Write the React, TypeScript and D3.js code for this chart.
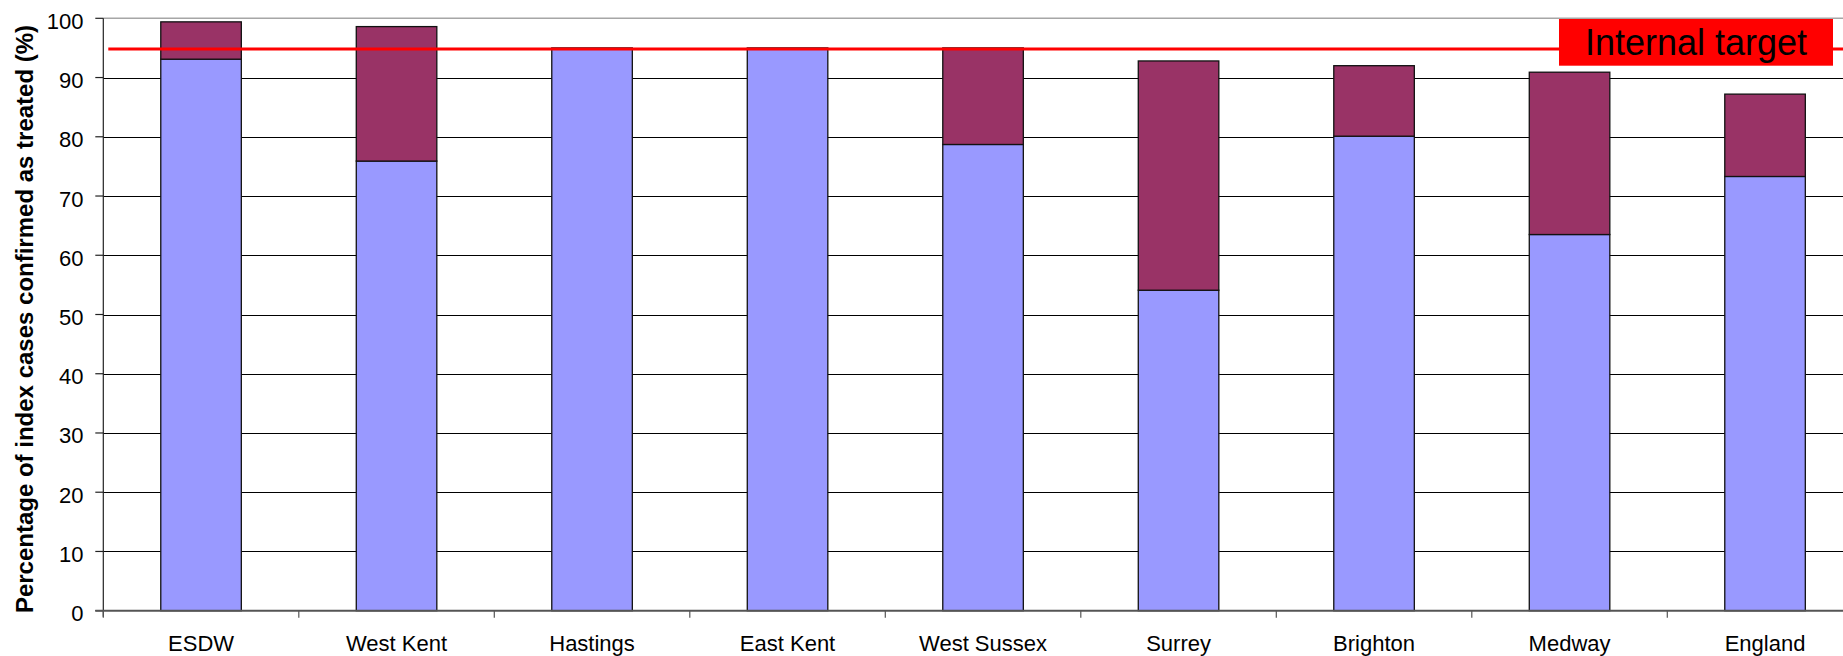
import React, { useEffect } from "react";
import * as d3 from "d3";

const categories = ["ESDW", "West Kent", "Hastings", "East Kent", "West Sussex", "Surrey", "Brighton", "Medway", "England"];
const treatedValues = [93.1, 75.9, 95.0, 95.0, 78.7, 54.1, 80.1, 63.5, 73.3];
const totalValues = [99.4, 98.6, 95.0, 95.0, 95.0, 92.8, 92.0, 90.9, 87.2];
const yTicks = [0, 10, 20, 30, 40, 50, 60, 70, 80, 90, 100];
const targetValue = 94.8;
const targetLabel = "Internal target";
const yTitle = "Percentage of index cases confirmed as treated (%)";

const W = 1843;
const H = 656;
const axisX = 103.3;
const step = 195.5;
const y0 = 610.7;
const y100 = 18.3;
const FONT = "'Liberation Sans', Arial, sans-serif";

export default function App() {
  useEffect(() => {
    document.body.style.margin = "0";
  }, []);

  const x = d3
    .scaleBand<string>()
    .domain(categories)
    .range([axisX, axisX + categories.length * step])
    .paddingInner(0.588)
    .paddingOuter(0.294);
  const y = d3.scaleLinear().domain([0, 100]).range([y0, y100]);

  const boundaries = d3.range(categories.length + 1).map((i) => axisX + i * step);

  return (
    <div style={{ position: "absolute", left: 0, top: 0 }}>
      <svg width={W} height={H} style={{ display: "block", background: "#fff" }} fontFamily={FONT}>
        {/* gridlines */}
        {yTicks.filter((t) => t > 0 && t < 100).map((t) => (
          <line key={t} x1={axisX} x2={W} y1={Math.round(y(t)) + 0.5} y2={Math.round(y(t)) + 0.5} stroke="#000" strokeWidth={1} />
        ))}
        <line x1={axisX} x2={W} y1={y(100)} y2={y(100)} stroke="#a6a6a6" strokeWidth={1.5} />
        {/* bars */}
        {categories.map((c, i) => {
          const bx = x(c)!;
          const bw = x.bandwidth();
          return (
            <g key={c}>
              <rect x={bx} y={y(treatedValues[i])} width={bw} height={y(0) - y(treatedValues[i])} fill="#9999FF" stroke="#111" strokeWidth={1.3} />
              {totalValues[i] - treatedValues[i] > 0.05 && (
                <rect x={bx} y={y(totalValues[i])} width={bw} height={y(treatedValues[i]) - y(totalValues[i])} fill="#993366" stroke="#111" strokeWidth={1.3} />
              )}
            </g>
          );
        })}
        {/* y axis */}
        <line x1={axisX} x2={axisX} y1={y(100)} y2={y(0) + 6} stroke="#222" strokeWidth={1.2} />
        {yTicks.map((t) => (
          <g key={t}>
            <line x1={axisX - 8} x2={axisX} y1={y(t)} y2={y(t)} stroke="#222" strokeWidth={1.2} />
            <text x={83.5} y={y(t) + 10.5} textAnchor="end" fontSize={22} fill="#000">
              {t}
            </text>
          </g>
        ))}
        {/* x axis */}
        <line x1={axisX - 8} x2={W} y1={y(0)} y2={y(0)} stroke="#555" strokeWidth={2} />
        {boundaries.map((b, i) => (
          <line key={i} x1={b} x2={b} y1={y(0)} y2={y(0) + 7} stroke="#555" strokeWidth={1.2} />
        ))}
        {categories.map((c) => (
          <text key={c} x={x(c)! + x.bandwidth() / 2} y={651} textAnchor="middle" fontSize={22} fill="#000">
            {c}
          </text>
        ))}
        {/* y title */}
        <text transform={`translate(33, 319) rotate(-90)`} textAnchor="middle" fontSize={24} fontWeight="bold" fill="#000">
          {yTitle}
        </text>
        {/* target line */}
        <line x1={axisX + 5} x2={W} y1={y(targetValue)} y2={y(targetValue)} stroke="#FF0000" strokeWidth={3} />
        <rect x={1559} y={19} width={274} height={46.7} fill="#FF0000" />
        <text x={1696} y={55} textAnchor="middle" fontSize={36} fill="#000">
          {targetLabel}
        </text>
      </svg>
    </div>
  );
}
